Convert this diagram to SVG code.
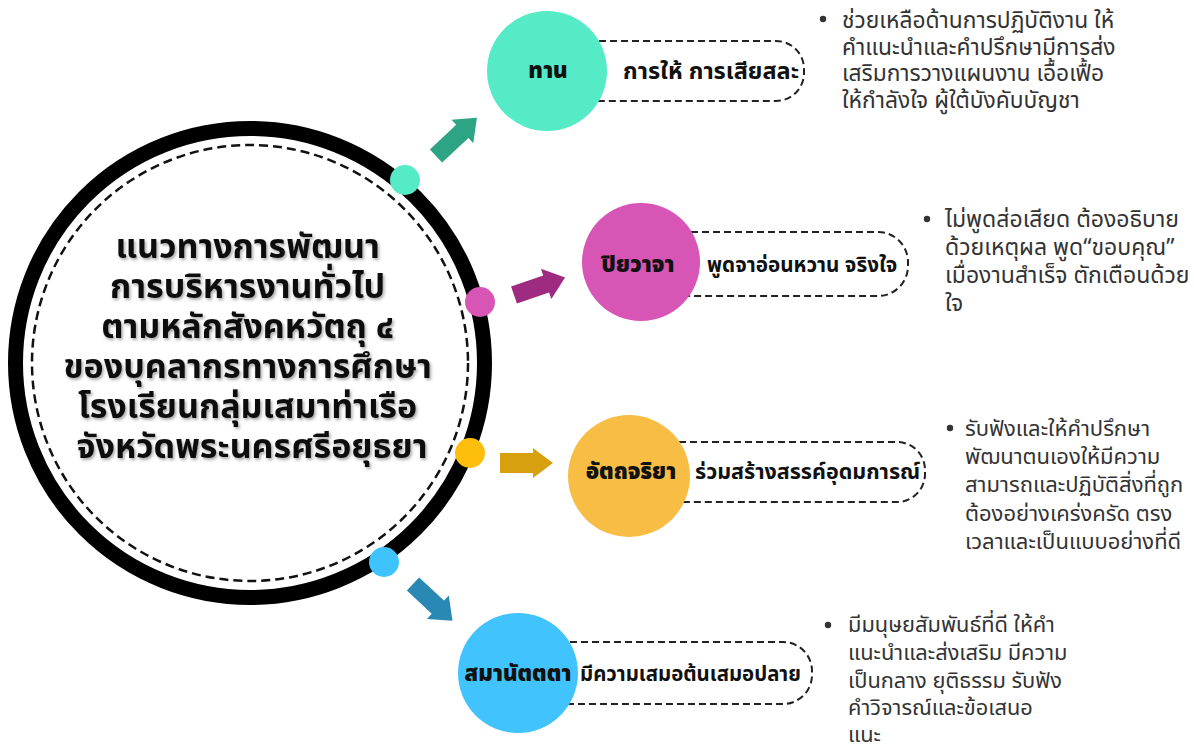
<svg xmlns="http://www.w3.org/2000/svg" width="1194" height="749" viewBox="0 0 1194 749">
  <style>
    text { font-family: 'Noto Sans Thai', 'Noto Sans Thai UI', 'Noto Sans', 'DejaVu Sans', sans-serif; }
    .title { font-size: 34px; font-weight: 700; fill: #111; text-anchor: middle; }
    .nlabel { font-size: 22px; font-weight: 900; fill: #111; text-anchor: middle; }
    .plabel { font-weight: 700; fill: #111; }
    .body { font-weight: 400; fill: #333; }
    .pill { fill: #fff; stroke: #222; stroke-width: 2; stroke-dasharray: 7 4; }
  </style>
  <defs>
    <filter id="sh" x="-10%" y="-10%" width="120%" height="130%">
      <feDropShadow dx="1.5" dy="2" stdDeviation="1.8" flood-color="#000" flood-opacity="0.35"/>
    </filter>
  </defs>
  <rect width="1194" height="749" fill="#fff"/>

  <!-- central circle -->
  <g id="center">
    <circle cx="250" cy="363" r="234.5" fill="#fff" stroke="#000" stroke-width="15"/>
    <circle cx="250" cy="363" r="218" fill="none" stroke="#111" stroke-width="2.5" stroke-dasharray="9 5"/>
    <text class="title" filter="url(#sh)">
      <tspan x="252" y="258">แนวทางการพัฒนา</tspan>
      <tspan x="252" y="298">การบริหารงานทั่วไป</tspan>
      <tspan x="252" y="338">ตามหลักสังคหวัตถุ ๔</tspan>
      <tspan x="252" y="378">ของบุคลากรทางการศึกษา</tspan>
      <tspan x="252" y="418">โรงเรียนกลุ่มเสมาท่าเรือ</tspan>
      <tspan x="252" y="458">จังหวัดพระนครศรีอยุธยา</tspan>
    </text>
    <circle cx="405" cy="180" r="15" fill="#55EBC6"/>
    <circle cx="480" cy="302" r="15" fill="#D655B5"/>
    <circle cx="470" cy="453" r="15" fill="#FDBF0B"/>
    <circle cx="384" cy="562" r="15" fill="#3EC3FF"/>
  </g>

  <!-- connectors (block arrows) -->
  <g id="connectors">
    <polygon transform="translate(436,156) rotate(-43)" points="0,-9 36,-9 36,-16 56,0 36,16 36,9 0,9" fill="#2DA585"/>
    <polygon transform="translate(514,295) rotate(-19)" points="0,-9 34,-9 34,-16 54,0 34,16 34,9 0,9" fill="#9E2A82"/>
    <polygon transform="translate(500,463) rotate(0)" points="0,-10 33,-10 33,-15 53,0 33,15 33,10 0,10" fill="#D6A00E"/>
    <polygon transform="translate(413,584) rotate(43)" points="0,-9 34,-9 34,-16 54,0 34,16 34,9 0,9" fill="#2A88B5"/>
  </g>

  <!-- node: ทาน -->
  <g id="node-tan">
    <rect class="pill" x="560" y="41" width="244" height="60" rx="28"/>
    <circle cx="547" cy="71" r="60" fill="#55EBC6"/>
    <text class="nlabel" x="548" y="78">ทาน</text>
    <text class="plabel" x="623" y="79" font-size="23.5">การให้ การเสียสละ</text>
  </g>

  <!-- node: ปิยวาจา -->
  <g id="node-piyawaja">
    <rect class="pill" x="650" y="232" width="258" height="64" rx="30"/>
    <circle cx="641" cy="262" r="59" fill="#D655B5"/>
    <text class="nlabel" x="638" y="272">ปิยวาจา</text>
    <text class="plabel" x="707" y="272" font-size="20.7">พูดจาอ่อนหวาน จริงใจ</text>
  </g>

  <!-- node: อัตถจริยา -->
  <g id="node-attha">
    <rect class="pill" x="640" y="442" width="285" height="60" rx="28"/>
    <circle cx="629" cy="476" r="61" fill="#F7BD45"/>
    <text class="nlabel" x="631" y="479">อัตถจริยา</text>
    <text class="plabel" x="695" y="479" font-size="21.5">ร่วมสร้างสรรค์อุดมการณ์</text>
  </g>

  <!-- node: สมานัตตตา -->
  <g id="node-samana">
    <rect class="pill" x="530" y="642" width="282" height="62" rx="29"/>
    <circle cx="518" cy="673" r="60" fill="#41C3FD"/>
    <text class="nlabel" x="518" y="681">สมานัตตตา</text>
    <text class="plabel" x="580" y="681" font-size="20.4">มีความเสมอต้นเสมอปลาย</text>
  </g>

  <!-- bullet notes -->
  <g id="note-1">
    <circle cx="823" cy="19" r="3.2" fill="#333"/>
    <text class="body" font-size="22.8">
      <tspan x="842" y="28">ช่วยเหลือด้านการปฏิบัติงาน ให้</tspan>
      <tspan x="842" y="55">คำแนะนำและคำปรึกษามีการส่ง</tspan>
      <tspan x="842" y="81">เสริมการวางแผนงาน เอื้อเฟื้อ</tspan>
      <tspan x="842" y="108">ให้กำลังใจ ผู้ใต้บังคับบัญชา</tspan>
    </text>
  </g>
  <g id="note-2">
    <circle cx="927" cy="219" r="3.2" fill="#333"/>
    <text class="body" font-size="23">
      <tspan x="945" y="227">ไม่พูดส่อเสียด ต้องอธิบาย</tspan>
      <tspan x="945" y="255">ด้วยเหตุผล พูด“ขอบคุณ”</tspan>
      <tspan x="945" y="283">เมื่องานสำเร็จ ตักเตือนด้วย</tspan>
      <tspan x="945" y="311">ใจ</tspan>
    </text>
  </g>
  <g id="note-3">
    <circle cx="950" cy="428" r="3.2" fill="#333"/>
    <text class="body" font-size="22">
      <tspan x="965" y="436">รับฟังและให้คำปรึกษา</tspan>
      <tspan x="965" y="464">พัฒนาตนเองให้มีความ</tspan>
      <tspan x="965" y="492">สามารถและปฏิบัติสิ่งที่ถูก</tspan>
      <tspan x="965" y="521">ต้องอย่างเคร่งครัด ตรง</tspan>
      <tspan x="965" y="549">เวลาและเป็นแบบอย่างที่ดี</tspan>
    </text>
  </g>
  <g id="note-4">
    <circle cx="828" cy="625" r="3.2" fill="#333"/>
    <text class="body" font-size="21.8">
      <tspan x="848" y="632">มีมนุษยสัมพันธ์ที่ดี ให้คำ</tspan>
      <tspan x="848" y="660">แนะนำและส่งเสริม มีความ</tspan>
      <tspan x="848" y="688">เป็นกลาง ยุติธรรม รับฟัง</tspan>
      <tspan x="848" y="715">คำวิจารณ์และข้อเสนอ</tspan>
      <tspan x="848" y="742">แนะ</tspan>
    </text>
  </g>
</svg>
